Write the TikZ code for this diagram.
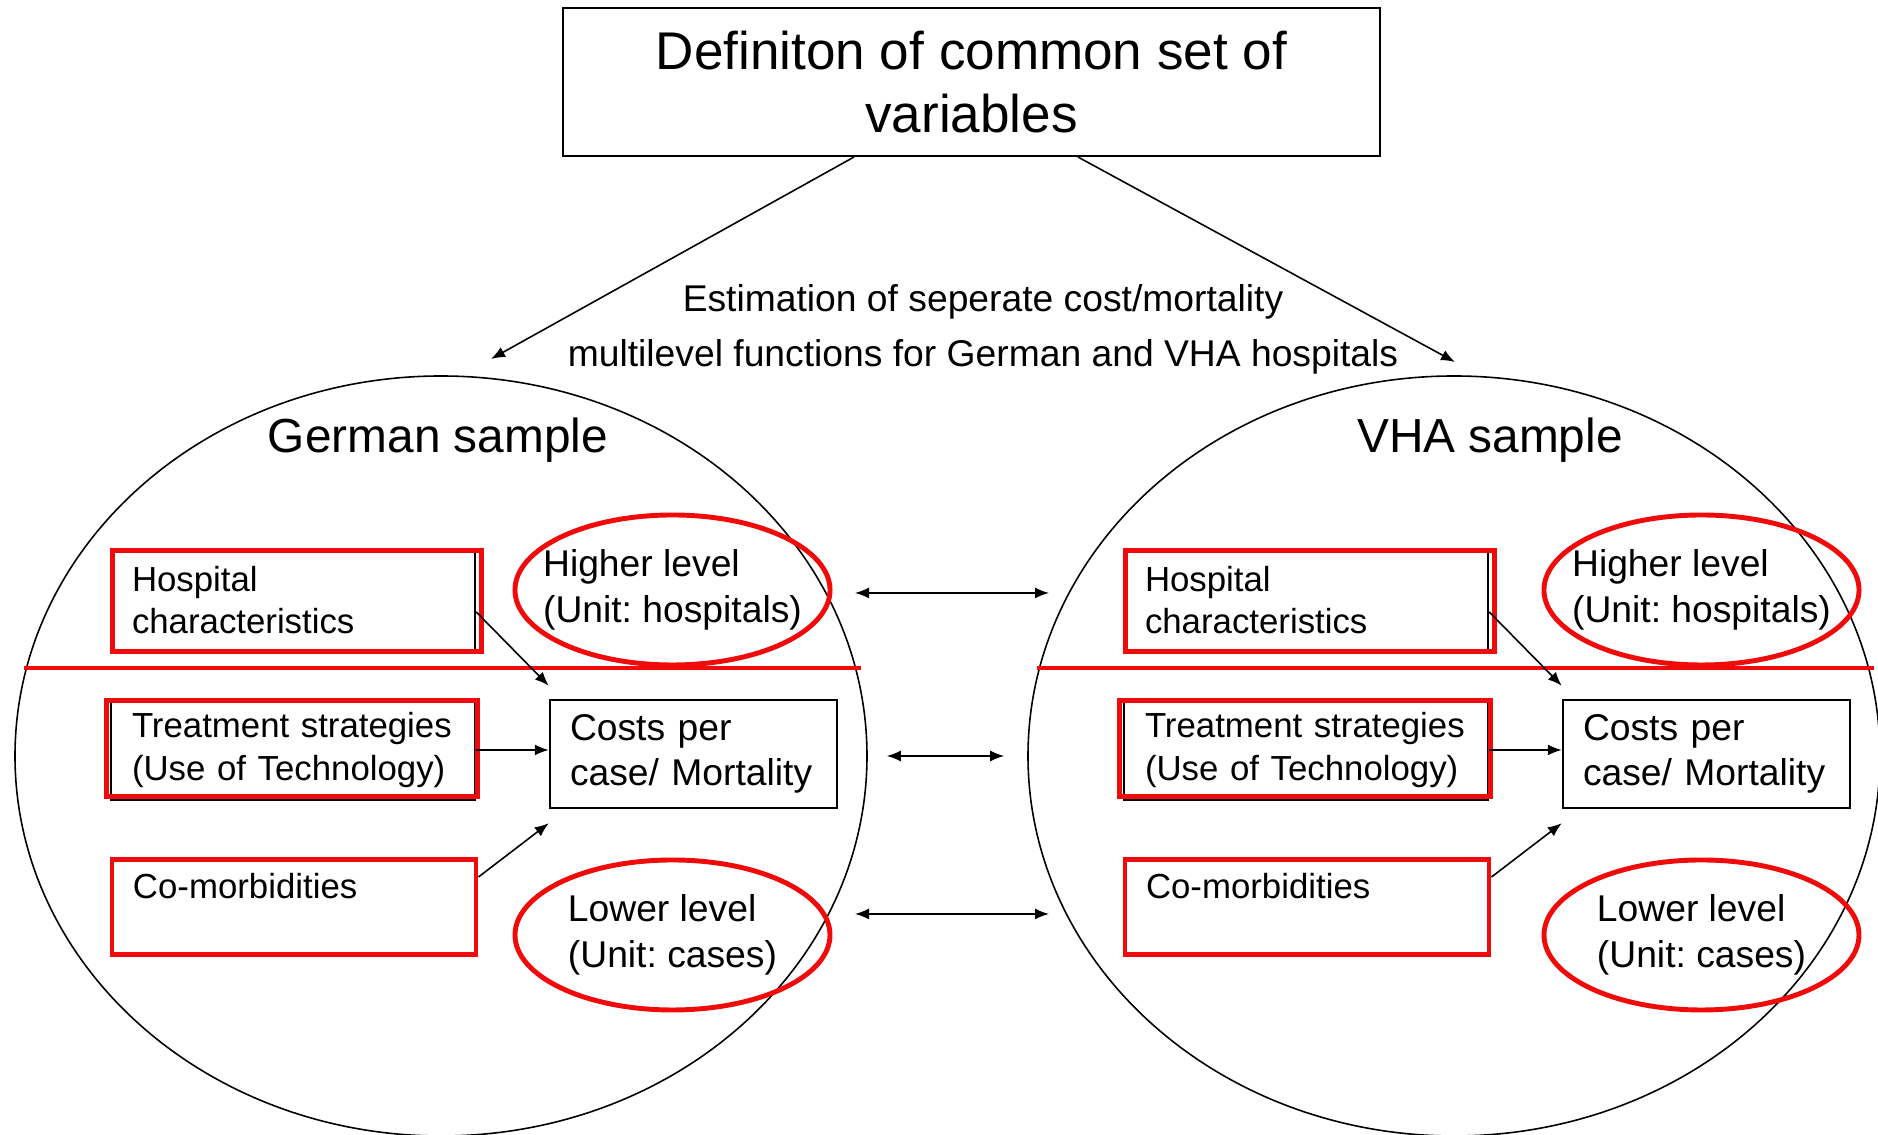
\documentclass[tikz,border=0pt]{standalone}
\usepackage{fontspec}
\setmainfont{Liberation Sans}
\usepackage{tikz}
\usetikzlibrary{arrows.meta,shapes.geometric,calc}
\usepackage{xcolor}
\definecolor{markred}{RGB}{240,10,10}
\newcommand{\fsz}[2]{\fontsize{#1}{#2}\selectfont}
\frenchspacing

\begin{document}
\begin{tikzpicture}[>={Latex[length=1.4mm,width=1.1mm]},
    factor/.style={draw,line width=0.7pt,text width=3.22cm,inner xsep=0.21cm,
      minimum height=1cm,align=left,font=\fsz{9.9pt}{12pt}},
    outcome/.style={draw,line width=0.7pt,text width=2.47cm,inner xsep=0.2cm,
      minimum height=1.08cm,align=left,font=\fsz{10.6pt}{12.6pt}},
    level/.style={draw=markred,ellipse,line width=1.4pt,minimum width=3.15cm,
      minimum height=1.5cm,inner xsep=-0.18cm,inner ysep=0pt,align=left,
      font=\fsz{10.6pt}{13pt}},
    sample/.style={draw,ellipse,line width=0.45pt,minimum width=8.52cm,
      minimum height=7.6cm,inner sep=0pt},
    redbox/.style={draw=markred,line width=1.4pt},
    link/.style={line width=0.45pt}]
  \useasboundingbox (0,0) rectangle (18.78,11.35);
  % top box and the two branches
  \node[draw,line width=0.6pt,minimum width=8.17cm,minimum height=1.48cm,
    align=center,font=\fsz{15.1pt}{18pt}] (defn) at (9.715,10.53)
    {Definiton of common set of\\variables};
  \node[align=center,font=\fsz{10.6pt}{15.6pt}] (estim) at (9.83,8.06)
    {Estimation of seperate cost/mortality\\multilevel functions for German and VHA hospitals};
  \coordinate (gerTip) at (4.91,7.76);
  \coordinate (vhaTip) at (14.55,7.73);
  \draw[link,->] ([xshift=-1.175cm]defn.south) -- (gerTip);
  \draw[link,->] ([xshift=1.065cm]defn.south) -- (vhaTip);
  % one sample on each side
  \foreach \s/\cx/\lx/\tx/\ttl in {L/4.41/6.725/4.38/German sample,
                                   R/14.54/17.015/14.90/VHA sample}{
    \node[sample] (sample\s) at (\cx,3.79) {};
    \node[font=\fsz{13.6pt}{16pt}] (title\s) at (\tx,6.945) {\ttl};
    \draw[markred,line width=1.2pt] ({\cx-4.17},4.67) -- ({\cx+4.2},4.67);
    \node[factor] (hosp\s) at ({\cx-1.48},5.35) {Hospital\\characteristics};
    \draw[redbox] ([shift={(0.03,-0.02)}]hosp\s.north west)
      rectangle ([xshift=0.05cm]hosp\s.south east);
    \node[factor] (treat\s) at ({\cx-1.48},3.85)
      {Treatment strategies\\(Use of Technology)};
    \draw[redbox] ([shift={(-0.03,-0.02)}]treat\s.north west)
      rectangle ([shift={(0.01,0.05)}]treat\s.south east);
    \node[factor,draw=markred,line width=1.4pt,minimum height=0.95cm]
      (comorb\s) at ({\cx-1.47},2.28) {Co-morbidities\\~};
    \node[outcome] (costs\s) at ({\cx+2.525},3.81) {Costs per\\case/ Mortality};
    \node[level] (high\s) at (\lx,5.45) {Higher level\\(Unit: hospitals)};
    \node[level] (low\s) at (\lx,2.0) {Lower level\\(Unit: cases)};
    \draw[link,->] ([yshift=-0.12cm]hosp\s.east) -- ([yshift=0.13cm]costs\s.north west);
    \draw[link,->] (treat\s) -- (treat\s -| costs\s.west);
    \draw[link,->] ([yshift=-0.2cm]comorb\s.north east)
      -- ([yshift=-0.14cm]costs\s.south west);
  }
  % links between the samples
  \coordinate (hiA) at (8.55,5.42);
  \coordinate (hiB) at (10.49,5.42);
  \coordinate (loA) at (8.55,2.21);
  \coordinate (loB) at (10.49,2.21);
  \draw[link,<->] (hiA) -- (hiB);
  \draw[link,<->,shorten <=0.19cm,shorten >=0.23cm] (sampleL.east) -- (sampleR.west);
  \draw[link,<->] (loA) -- (loB);
\end{tikzpicture}
\end{document}
